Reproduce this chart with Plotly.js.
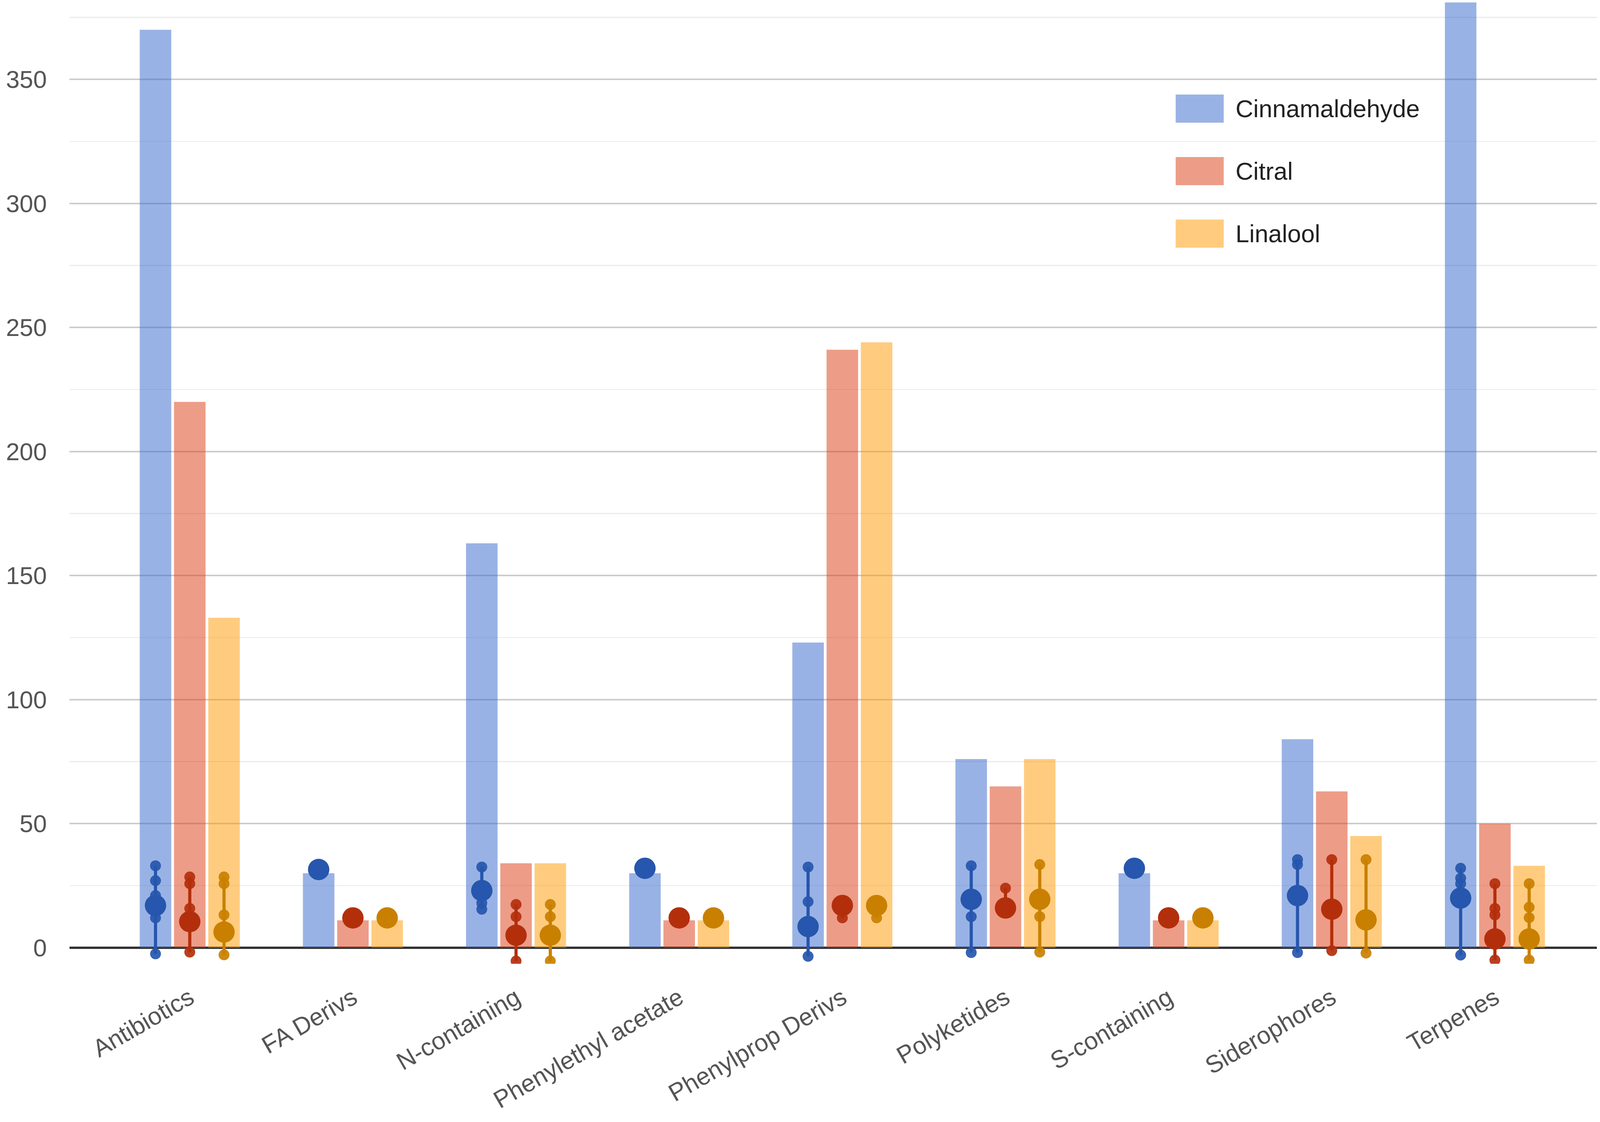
<!DOCTYPE html>
<html>
<head>
<meta charset="utf-8">
<script src="https://cdn.plot.ly/plotly-3.0.1.min.js"></script>
<style>
  html, body { margin: 0; padding: 0; background: #fff; overflow: hidden; }
  #chart { position: absolute; left: 0; top: 0; }
</style>
</head>
<body>
<div id="chart"></div>
<script>
// ---- data ----
const categories = ['Antibiotics', 'FA Derivs', 'N-containing', 'Phenylethyl acetate',
  'Phenylprop Derivs', 'Polyketides', 'S-containing', 'Siderophores', 'Terpenes'];
const seriesNames = ['Cinnamaldehyde', 'Citral', 'Linalool'];

// bar heights
const cinnamaldehyde = [370, 30, 163, 30, 123, 76, 30, 84, 381];
const citral         = [220, 11, 34, 11, 241, 65, 11, 63, 50];
const linalool       = [133, 11, 34, 11, 244, 76, 11, 45, 33];

// large interval dot (main value) per bar
const cinnamaldehydeMain = [17, 31.5, 23, 32, 8.5, 19.5, 32, 21, 20];
const citralMain         = [10.5, 12, 5, 12, 17, 16, 12, 15.5, 3.5];
const linaloolMain       = [6.3, 12, 5, 12, 17, 19.5, 12, 11.2, 3.5];

// other interval values (small dots) per bar
const cinnamaldehydeOther = [[33, 27, 21, 12, -2.5], [], [32.5, 18, 15.5], [], [32.5, 18.5, -3.5],
  [33, 12.5, -2], [], [35.5, 33.5, -2], [32, 28, 25.8, -3]];
const citralOther = [[28.5, 25.8, 15.8, -1.8], [], [17.4, 12.5, -5.4], [], [12],
  [24], [], [35.5, -1.2], [25.8, 15.8, 13.2, -5]];
const linaloolOther = [[28.5, 25.8, 13.2, -2.9], [], [17.4, 12.5, -5.4], [], [12],
  [33.5, 12.5, -1.8], [], [35.5, -2.2], [25.8, 16.3, 12.1, -5]];

const yTicks = [0, 50, 100, 150, 200, 250, 300, 350];

// ---- styling ----
const barColors = ['#3366cc', '#dc3912', '#ff9900'];
const dotColors = ['#2656ad', '#b32f0c', '#c98000'];
const seriesValues = [cinnamaldehyde, citral, linalool];
const seriesMain = [cinnamaldehydeMain, citralMain, linaloolMain];
const seriesOther = [cinnamaldehydeOther, citralOther, linaloolOther];

const FONT = 'Liberation Sans, Arial, Helvetica, sans-serif';
const W = window.innerWidth || document.documentElement.clientWidth || 4562;
const H = window.innerHeight || document.documentElement.clientHeight || 2872;
const sx = W / 4562, sy = H / 2872, sf = Math.min(sx, sy);
const M = {l: 198 * sx, r: 9 * sx, t: 0, b: 405 * sy};
const plotW = W - M.l - M.r, plotH = H - M.t - M.b;

const traces = [];
seriesNames.forEach((name, s) => {
  traces.push({
    type: 'bar', name: name, x: categories, y: seriesValues[s],
    offsetgroup: 'g' + s,
    marker: {color: barColors[s], opacity: 0.5, line: {width: 0}},
    hoverinfo: 'skip'
  });
});
seriesNames.forEach((name, s) => {
  const lx = [], ly = [], dx = [], dy = [];
  categories.forEach((c, i) => {
    const pts = [seriesMain[s][i]].concat(seriesOther[s][i]);
    const lo = Math.min.apply(null, pts), hi = Math.max.apply(null, pts);
    if (hi > lo) { lx.push(c, c, null); ly.push(lo, hi, null); }
    seriesOther[s][i].forEach(v => { dx.push(c); dy.push(v); });
  });
  traces.push({
    type: 'scatter', mode: 'lines', x: lx, y: ly, offsetgroup: 'g' + s,
    line: {color: dotColors[s], width: 9 * sf}, connectgaps: false, showlegend: false, hoverinfo: 'skip'
  });
  traces.push({
    type: 'scatter', mode: 'markers', x: dx, y: dy, offsetgroup: 'g' + s,
    marker: {color: dotColors[s], size: 31 * sf, opacity: 0.92, line: {width: 0}},
    showlegend: false, hoverinfo: 'skip'
  });
  traces.push({
    type: 'scatter', mode: 'markers', x: categories, y: seriesMain[s], offsetgroup: 'g' + s,
    marker: {color: dotColors[s], size: 61 * sf, line: {width: 0}},
    showlegend: false, hoverinfo: 'skip'
  });
});

// custom legend (large swatches like the reference)
const legendX0 = 3352, legendX1 = 3489, legendTextX = 3521, legendY0 = 278, legendStep = 160, swatchH = 72;
const px2x = p => (p * sx - M.l) / plotW;
const px2y = p => 1 - (p * sy - M.t) / plotH;
const shapes = [], annotations = [];
seriesNames.forEach((name, s) => {
  const cy = legendY0 + s * legendStep;
  shapes.push({
    type: 'rect', xref: 'paper', yref: 'paper', layer: 'above',
    x0: px2x(legendX0), x1: px2x(legendX1), y0: px2y(cy + swatchH / 2), y1: px2y(cy - swatchH / 2),
    fillcolor: barColors[s], opacity: 0.5, line: {width: 0}
  });
  annotations.push({
    xref: 'paper', yref: 'paper', x: px2x(legendTextX), y: px2y(cy),
    xanchor: 'left', yanchor: 'middle', showarrow: false, text: name,
    font: {family: FONT, size: 70 * sf, color: '#222'}
  });
});

const layout = {
  width: W, height: H,
  margin: {l: M.l, r: M.r, t: M.t, b: M.b, pad: 0},
  paper_bgcolor: '#ffffff', plot_bgcolor: '#ffffff',
  font: {family: FONT, size: 70 * sf, color: '#555'},
  showlegend: false,
  barmode: 'group', bargap: 0.37, bargroupgap: 0.08,
  scattermode: 'group', scattergap: 0.37,
  xaxis: {
    type: 'category', range: [-0.737, 8.625],
    tickangle: -30, tickfont: {family: FONT, size: 70 * sf, color: '#555'},
    showgrid: false, zeroline: false, showline: false, ticks: '',
    ticklabelstandoff: Math.round(38 * sy), automargin: false
  },
  yaxis: {
    range: [-6.5, 382], tickmode: 'array', tickvals: yTicks, ticktext: yTicks.map(String),
    showgrid: true, gridcolor: '#cccccc', gridwidth: 4 * sf,
    zeroline: true, zerolinecolor: '#333333', zerolinewidth: 7 * sf,
    minor: {tickmode: 'linear', tick0: 0, dtick: 25, showgrid: true, gridcolor: '#ebebeb', gridwidth: 3 * sf, ticks: ''},
    ticks: '', showline: false,
    tickfont: {family: FONT, size: 70 * sf, color: '#555'},
    ticklabelstandoff: Math.round(64 * sx), automargin: false
  },
  shapes: shapes,
  annotations: annotations
};

Plotly.newPlot('chart', traces, layout, {staticPlot: true, displayModeBar: false});
</script>
</body>
</html>
